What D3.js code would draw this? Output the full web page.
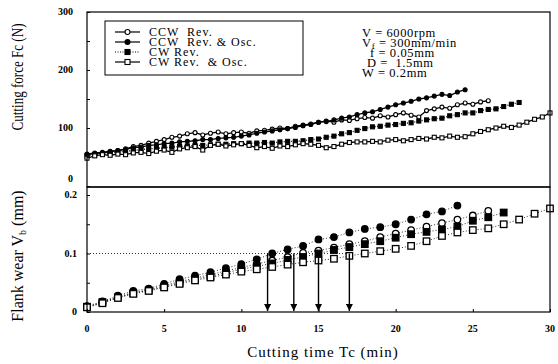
<!DOCTYPE html>
<html lang="en">
<head>
    <meta charset="UTF-8">
    <title>Cutting force and flank wear</title>
    <script src="https://d3js.org/d3.v7.min.js"></script>
    <style>
        body { margin: 0; background: #fff; }
        text { font-family: "Liberation Serif", "DejaVu Serif", serif; fill: #000; }
        .tlabel { font-weight: bold; font-size: 10px; }
    </style>
</head>
<body>

<svg id="main" width="558" height="364" viewBox="0 0 558 364"></svg>
<script>

    // sampling interval of each panel (min)
    const forceStep = 0.5;
    const wearStep = 1;

    // cutting force Fc (N), upper panel
    const forceCCWRev = [54,56,57,59,61,64,68,70,74,77,80,84,86,90,92,88,91,93,90,92,93,91,95,96,98,100,99,103,105,107,110,112,110,114,113,116,118,117,121,119,123,126,122,119,130,133,136,134,140,143,141,145,147];
    const forceCCWOsc = [55,57,58,60,61,63,66,67,70,71,73,74,76,77,78,80,80,82,83,84,86,88,91,93,95,97,99,101,104,106,110,111,114,117,119,123,126,128,132,136,140,143,146,150,152,155,158,156,162,166];
    const forceCWRev = [52,54,56,57,58,60,61,63,64,65,66,67,68,69,70,70,71,72,72,73,73,74,74,75,74,76,77,77,78,80,81,84,86,90,92,96,99,102,103,105,106,108,109,112,114,116,117,121,123,126,126,130,132,133,137,141,144];
    const forceCWOsc = [48,52,54,53,55,54,57,58,56,60,62,58,64,66,68,62,70,72,69,71,73,70,66,68,65,69,68,71,73,72,70,66,68,72,75,76,76,77,76,79,80,78,80,82,81,84,83,86,84,85,90,94,97,100,103,101,105,110,115,119,126];

    // flank wear Vb (mm), lower panel
    const wearCCWRev = [0.008,0.016,0.026,0.033,0.038,0.045,0.052,0.058,0.064,0.070,0.076,0.082,0.088,0.094,0.101,0.105,0.110,0.116,0.121,0.128,0.134,0.140,0.146,0.152,0.158,0.165,0.173];
    const wearCCWOsc = [0.010,0.018,0.028,0.036,0.040,0.048,0.056,0.062,0.068,0.075,0.082,0.090,0.100,0.107,0.113,0.124,0.128,0.136,0.142,0.145,0.150,0.158,0.167,0.172,0.182];
    const wearCWRev = [0.009,0.017,0.025,0.032,0.037,0.043,0.050,0.056,0.061,0.067,0.073,0.078,0.083,0.089,0.094,0.100,0.106,0.111,0.116,0.121,0.127,0.133,0.137,0.141,0.146,0.156,0.162,0.170];
    const wearCWOsc = [0.008,0.015,0.024,0.031,0.036,0.042,0.048,0.054,0.059,0.064,0.069,0.073,0.077,0.081,0.085,0.088,0.091,0.096,0.100,0.104,0.108,0.113,0.121,0.130,0.136,0.140,0.143,0.150,0.158,0.168,0.177];

    // tool life at Vb = 0.1 mm
    const wearLimit = 0.1;
    const lifeTimes = [11.7, 13.4, 15.0, 17.0];

    const seriesNames = ['CCW  Rev.', 'CCW  Rev. & Osc.', 'CW Rev.', 'CW Rev.  & Osc.'];
    const timeTicks = [0, 5, 10, 15, 20, 25, 30];
    const forceTicks = [0, 100, 200, 300];
    const wearTicks = [0, 0.1, 0.2];
    const conditions = ['V = 6000rpm', 'Vf = 300mm/min', 'f = 0.05mm', 'D =  1.5mm', 'W = 0.2mm'];

    const styles = [
        {shape: 'circle', filled: false, dash: null},
        {shape: 'circle', filled: true, dash: null},
        {shape: 'square', filled: true, dash: '1,1.5'},
        {shape: 'square', filled: false, dash: null}
    ];

    const series = seriesNames.map((name, i) => ({
        name: name,
        style: styles[i],
        force: [forceCCWRev, forceCCWOsc, forceCWRev, forceCWOsc][i].map((v, j) => ({t: j * forceStep, v: v})),
        wear: [wearCCWRev, wearCCWOsc, wearCWRev, wearCWOsc][i].map((v, j) => ({t: j * wearStep, v: v}))
    }));

    const svg = d3.select('svg#main');

    const x = d3.scaleLinear().domain([0, 30]).range([87, 550]);
    const yF = d3.scaleLinear().domain([0, 300]).range([186, 12]);
    const yW = d3.scaleLinear().domain([0, 0.2]).range([312, 195]);

    svg.append('defs').append('marker')
        .attr('id', 'arrow')
        .attr('viewBox', '0 0 6 6')
        .attr('refX', 6).attr('refY', 3)
        .attr('markerWidth', 5).attr('markerHeight', 5)
        .attr('orient', 'auto')
        .append('path').attr('d', 'M0,0L6,3L0,6Z').attr('fill', '#000');

    function drawMarks(g, data, yScale, st, size, sw) {
        g.selectAll(null)
            .data(data)
            .enter()
            .append(st.shape === 'circle' ? 'circle' : 'rect')
            .each(function(d) {
                let el = d3.select(this);
                if (st.shape === 'circle') {
                    el.attr('cx', x(d.t)).attr('cy', yScale(d.v)).attr('r', size / 2);
                } else {
                    el.attr('x', x(d.t) - size / 2).attr('y', yScale(d.v) - size / 2)
                        .attr('width', size).attr('height', size);
                }
            })
            .attr('fill', st.filled ? '#000' : '#fff')
            .attr('stroke', '#000')
            .attr('stroke-width', sw);
    }

    // upper panel: cutting force
    let upper = svg.append('g');
    series.forEach(s => {
        let line = d3.line().x(d => x(d.t)).y(d => yF(d.v));
        upper.append('path')
            .attr('d', line(s.force))
            .attr('fill', 'none')
            .attr('stroke', '#000')
            .attr('stroke-width', 1.3)
            .attr('stroke-dasharray', s.style.dash);
    });
    series.forEach(s => drawMarks(upper, s.force, yF, s.style, 4, 1.1));

    // lower panel: flank wear
    let lower = svg.append('g');
    lower.append('line')
        .attr('x1', x(0)).attr('x2', x(d3.max(lifeTimes)))
        .attr('y1', yW(wearLimit)).attr('y2', yW(wearLimit))
        .attr('stroke', '#000').attr('stroke-width', 0.8).attr('stroke-dasharray', '1,2');
    series.forEach(s => {
        let line = d3.line().x(d => x(d.t)).y(d => yW(d.v));
        lower.append('path')
            .attr('d', line(s.wear))
            .attr('fill', 'none')
            .attr('stroke', '#000')
            .attr('stroke-width', 0.8)
            .attr('stroke-dasharray', '1,2');
    });
    series.forEach(s => drawMarks(lower, s.wear, yW, s.style, 6.5, 1.3));
    lower.selectAll('line.life')
        .data(lifeTimes)
        .enter()
        .append('line')
        .attr('class', 'life')
        .attr('x1', d => x(d)).attr('x2', d => x(d))
        .attr('y1', yW(wearLimit)).attr('y2', yW(0) - 1)
        .attr('stroke', '#000').attr('stroke-width', 1.4)
        .attr('marker-end', 'url(#arrow)');

    // frames
    svg.append('rect').attr('x', 87).attr('y', 12).attr('width', 463).attr('height', 175)
        .attr('fill', 'none').attr('stroke', '#000').attr('stroke-width', 1.2);
    svg.append('rect').attr('x', 87).attr('y', 187).attr('width', 463).attr('height', 125)
        .attr('fill', 'none').attr('stroke', '#000').attr('stroke-width', 1.2);

    // inward ticks
    let axF = d3.axisRight(yF).tickValues([0, 50, 100, 150, 200, 250, 300]).tickSize(3).tickFormat('');
    svg.append('g').attr('transform', 'translate(87,0)').call(axF).call(g => g.select('.domain').remove());
    let axW = d3.axisRight(yW).tickValues([0, 0.05, 0.1, 0.15, 0.2]).tickSize(3).tickFormat('');
    svg.append('g').attr('transform', 'translate(87,0)').call(axW).call(g => g.select('.domain').remove());
    let axT = d3.axisTop(x).tickValues(timeTicks).tickSize(3).tickFormat('');
    svg.append('g').attr('transform', 'translate(0,312)').call(axT).call(g => g.select('.domain').remove());

    // tick labels
    svg.selectAll('text.ft')
        .data(forceTicks)
        .enter()
        .append('text')
        .attr('class', 'tlabel')
        .attr('x', 73)
        .attr('y', d => d === 0 ? yF(d) - 4 : yF(d) + 3)
        .attr('text-anchor', 'end')
        .text(d => d);
    svg.selectAll('text.wt')
        .data(wearTicks)
        .enter()
        .append('text')
        .attr('class', 'tlabel')
        .attr('x', 77)
        .attr('y', d => yW(d) + 3)
        .attr('text-anchor', 'end')
        .text(d => d === 0 ? '0' : d.toFixed(1));
    svg.selectAll('text.tt')
        .data(timeTicks)
        .enter()
        .append('text')
        .attr('class', 'tlabel')
        .attr('x', d => x(d))
        .attr('y', 332)
        .attr('text-anchor', 'middle')
        .text(d => d);

    // axis titles
    let fTitle = svg.append('text')
        .attr('transform', 'translate(23,77) rotate(-90)')
        .attr('text-anchor', 'middle')
        .attr('font-size', 16)
        .attr('textLength', 107).attr('lengthAdjust', 'spacingAndGlyphs');
    fTitle.append('tspan').text('Cutting force Fc (N)');
    let wTitle = svg.append('text')
        .attr('transform', 'translate(23,256) rotate(-90)')
        .attr('text-anchor', 'middle')
        .attr('font-size', 16);
    wTitle.append('tspan').text('Flank wear V');
    wTitle.append('tspan').attr('font-size', 10).attr('dy', 3).text('b');
    wTitle.append('tspan').attr('dy', -3).text(' (mm)');
    svg.append('text')
        .attr('x', 323).attr('y', 357)
        .attr('text-anchor', 'middle')
        .attr('font-size', 15)
        .attr('letter-spacing', 1)
        .text('Cutting time Tc (min)');

    // legend
    let legend = svg.append('g');
    legend.append('rect').attr('x', 105).attr('y', 21).attr('width', 198).attr('height', 54)
        .attr('fill', '#fff').attr('stroke', '#000').attr('stroke-width', 1);
    series.forEach((s, i) => {
        let cy = 32 + i * 10;
        legend.append('line')
            .attr('x1', 115).attr('x2', 140).attr('y1', cy).attr('y2', cy)
            .attr('stroke', '#000').attr('stroke-width', 1.2)
            .attr('stroke-dasharray', s.style.dash);
        drawMarks(legend, [{t: x.invert(127.5), v: yF.invert(cy)}], yF, s.style, 5, 1.1);
        legend.append('text')
            .attr('x', 149).attr('y', cy + 4)
            .attr('font-size', 12)
            .attr('letter-spacing', 1)
            .style('white-space', 'pre')
            .text(s.name);
    });

    // cutting conditions
    const condX = [362, 362, 370, 367, 362];
    conditions.forEach((c, i) => {
        let t = svg.append('text')
            .attr('x', condX[i]).attr('y', 37 + i * 10)
            .attr('font-size', 12.5)
            .attr('letter-spacing', 0.6)
            .style('white-space', 'pre');
        if (c.startsWith('Vf')) {
            t.append('tspan').text('V');
            t.append('tspan').attr('font-size', 9).attr('dy', 2).text('f');
            t.append('tspan').attr('dy', -2).text(c.slice(2));
        } else {
            t.text(c);
        }
    });

</script>
</body>
</html>
